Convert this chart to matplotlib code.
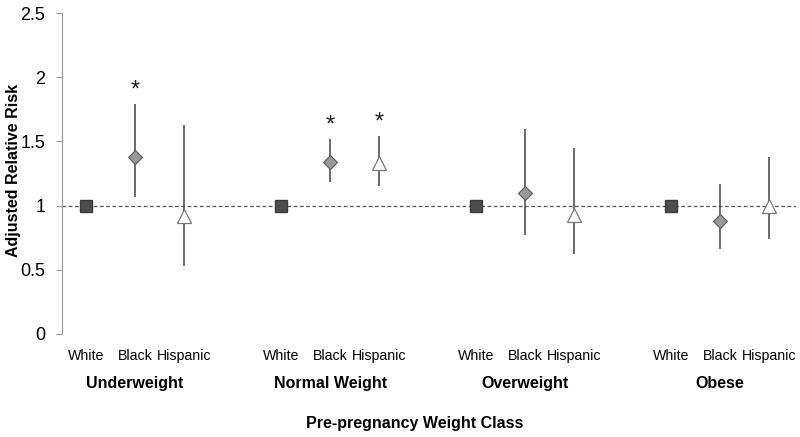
import matplotlib
matplotlib.use('Agg')
import matplotlib.pyplot as plt
import numpy as np

plt.rcParams['font.family'] = ['Liberation Sans', 'DejaVu Sans']

groups = ['Underweight', 'Normal Weight', 'Overweight', 'Obese']
races = ['White', 'Black', 'Hispanic']

# adjusted relative risk and 95% CI per group (White is the reference)
black_rr = [1.38, 1.34, 1.10, 0.88]
black_lo = [1.07, 1.18, 0.77, 0.66]
black_hi = [1.79, 1.52, 1.60, 1.17]
hisp_rr = [0.92, 1.33, 0.93, 1.00]
hisp_lo = [0.53, 1.15, 0.62, 0.74]
hisp_hi = [1.63, 1.545, 1.45, 1.38]
white_rr = [1.0, 1.0, 1.0, 1.0]
# significant results get an asterisk
black_sig = [True, True, False, False]
hisp_sig = [False, True, False, False]

fig = plt.figure(figsize=(8, 4.37), dpi=100)
ax = fig.add_axes([0.0775, 0.236, 0.917, 0.734])

base = np.arange(len(groups)) * 4
xw, xb, xh = base, base + 1, base + 2

ax.axhline(1, color='#555555', ls=(0, (3, 2)), lw=0.9, zorder=1)

ax.plot(xw, white_rr, ls='none', marker='s', ms=8, mfc='#4d4d4d',
        mec='#3a3a3a', zorder=3)

b = np.array(black_rr)
ax.errorbar(xb, b, yerr=[b - np.array(black_lo), np.array(black_hi) - b],
            fmt='D', ms=7, mfc='#999999', mec='#5a5a5a', mew=0.8,
            ecolor='#444444', elinewidth=1.1, capsize=0, zorder=3)
h = np.array(hisp_rr)
ax.errorbar(xh, h, yerr=[h - np.array(hisp_lo), np.array(hisp_hi) - h],
            fmt='^', ms=10, mfc='white', mec='#777777', mew=0.9,
            ecolor='#444444', elinewidth=1.1, capsize=0, zorder=3)

for x, top, s in zip(xb, black_hi, black_sig):
    if s:
        ax.text(x, top + 0.02, '*', ha='center', va='bottom', fontsize=17,
                color='#222222')
for x, top, s in zip(xh, hisp_hi, hisp_sig):
    if s:
        ax.text(x, top + 0.02, '*', ha='center', va='bottom', fontsize=17,
                color='#222222')

ax.set_ylim(0, 2.5)
ax.set_xlim(-0.5, 14.55)
ax.set_yticks([0, 0.5, 1, 1.5, 2, 2.5])
ax.set_yticklabels(['0', '0.5', '1', '1.5', '2', '2.5'])
ax.tick_params(axis='y', labelsize=13, color='#999999', length=4,
               direction='out', pad=8)

ax.set_xticks(np.concatenate([xw, xb, xh]))
ax.set_xticklabels(races[:1] * 4 + races[1:2] * 4 + races[2:] * 4)
ax.tick_params(axis='x', length=0, labelsize=10.2, pad=11)

for s in ['top', 'right', 'bottom']:
    ax.spines[s].set_visible(False)
ax.spines['left'].set_color('#999999')

for x, g in zip(base + 1, groups):
    ax.text(x, -0.33, g, ha='center', va='top', fontsize=11.5,
            fontweight='bold')

fig.text(0.017, 0.61, 'Adjusted Relative Risk', rotation=90, ha='center',
         va='center', fontsize=11.5, fontweight='bold')
fig.text(0.518, 0.031, 'Pre-pregnancy Weight Class', ha='center',
         va='center', fontsize=11.5, fontweight='bold')

fig.savefig('out.png', dpi=100)
